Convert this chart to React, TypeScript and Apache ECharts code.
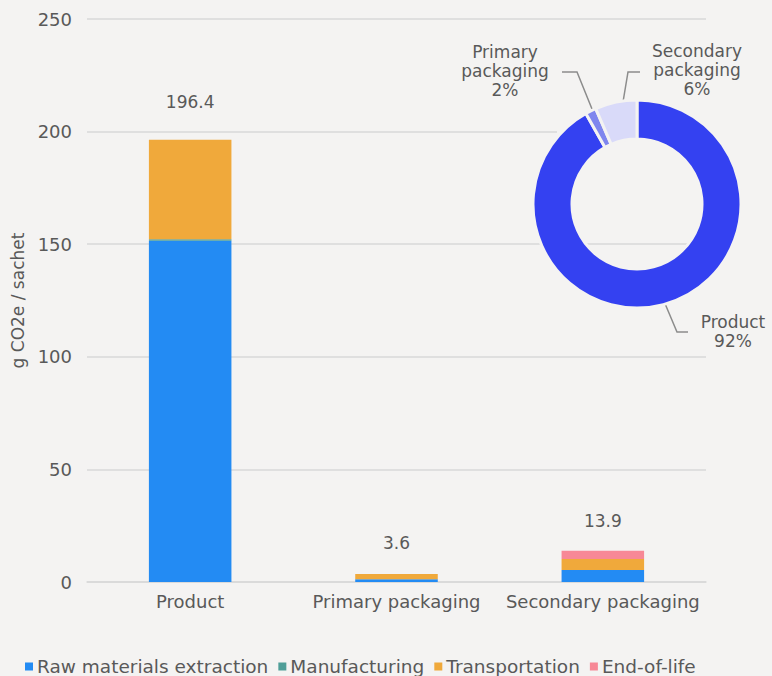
import React, { useEffect, useRef } from "react";
import * as echarts from "echarts";

const categories = ["Product", "Primary packaging", "Secondary packaging"];
const rawMaterials = [151.5, 1.2, 5.3];
const manufacturing = [0.7, 0, 0];
const transportation = [44.2, 2.4, 4.9];
const endOfLife = [0, 0, 3.7];
const totals = [196.4, 3.6, 13.9];
const seriesNames = ["Raw materials extraction", "Manufacturing", "Transportation", "End-of-life"];
const seriesValues = [rawMaterials, manufacturing, transportation, endOfLife];
const seriesColors = ["#238bf3", "#4f9e98", "#f0a93b", "#f78896"];
const pieColors = ["#3441f1", "#7f86ee", "#d9daf9"];

const BG = "#f4f3f2";
const TXT = "#595959";
const FONT = "DejaVu Sans";

export default function App() {
  const ref = useRef<HTMLDivElement>(null);
  useEffect(() => {
    if (!ref.current) return;
    const chart = echarts.init(ref.current, null, { renderer: "svg" });
    const labelPos = [
      { x: 733, y: 331, pts: [[658, 287], [677, 332], [688, 332]] },
      { x: 505, y: 71, pts: [[607, 146], [577, 72], [562, 72]] },
      { x: 697, y: 70, pts: [[620, 120], [628, 72], [640, 72]] },
    ];
    const totalLabelDistance = [29, 22, 21];
    const barSeries: any[] = seriesNames.map((name, i) => ({
      name,
      type: "bar",
      stack: "total",
      barWidth: "40%",
      data: seriesValues[i],
      itemStyle: { color: seriesColors[i] },
      z: 3,
    }));
    barSeries.push({
      name: "Total",
      type: "bar",
      stack: "total",
      data: totals.map((_, i) => ({ value: 0, label: { distance: totalLabelDistance[i] } })),
      itemStyle: { color: "transparent" },
      label: {
        show: true,
        position: "top",
        fontFamily: FONT,
        fontSize: 17,
        color: TXT,
        formatter: (p: any) => String(totals[p.dataIndex]),
      },
      z: 3,
    });
    chart.setOption({
      animation: false,
      backgroundColor: BG,
      textStyle: { fontFamily: FONT },
      grid: { left: 87, right: 66, top: 19, bottom: 94 },
      legend: {
        data: seriesNames,
        left: 25,
        top: 657,
        icon: "rect",
        itemWidth: 8,
        itemHeight: 8,
        itemGap: 10,
        padding: 0,
        textStyle: { fontFamily: FONT, fontSize: 18.5, color: TXT, padding: [0, 0, 0, -1] },
      },
      graphic: [
        {
          type: "rect",
          z: 1,
          shape: { x: 557, y: 40, width: 215, height: 190 },
          style: { fill: BG },
          silent: true,
        },
      ],
      xAxis: {
        type: "category",
        data: categories,
        axisTick: { show: false },
        axisLine: { lineStyle: { color: "#d9d9d9", width: 1.5 } },
        axisLabel: { color: TXT, fontFamily: FONT, fontSize: 18, margin: 10, interval: 0 },
      },
      yAxis: {
        type: "value",
        min: 0,
        max: 250,
        interval: 50,
        name: "g CO2e / sachet",
        nameLocation: "middle",
        nameRotate: 90,
        nameGap: 55,
        nameTextStyle: { color: TXT, fontFamily: FONT, fontSize: 17 },
        axisLabel: { color: TXT, fontFamily: FONT, fontSize: 18, margin: 15 },
        splitLine: { lineStyle: { color: "#d9d9d9", width: 1.5 } },
      },
      series: [
        ...barSeries,
        {
          name: "Share",
          type: "pie",
          center: [637, 204],
          radius: [65, 104],
          startAngle: 90,
          clockwise: true,
          percentPrecision: 0,
          z: 5,
          itemStyle: { borderColor: BG, borderWidth: 3 },
          data: categories.map((c, i) => ({ name: c, value: totals[i], itemStyle: { color: pieColors[i] } })),
          label: {
            show: true,
            position: "outside",
            overflow: "none",
            color: TXT,
            fontFamily: FONT,
            fontSize: 17,
            lineHeight: 19,
            align: "center",
            formatter: (p: any) => `${p.name.replace(" ", "\n")}\n${p.percent}%`,
          },
          labelLine: { show: true, lineStyle: { color: "#8c8c8c", width: 1.5 } },
          labelLayout: (params: any) => {
            const l = labelPos[params.dataIndex];
            return { x: l.x, y: l.y, align: "center", verticalAlign: "middle", labelLinePoints: l.pts };
          },
        },
      ],
    });
    return () => chart.dispose();
  }, []);
  return (
    <div
      ref={ref}
      style={{ position: "fixed", left: 0, top: 0, width: 772, height: 676 }}
    />
  );
}
